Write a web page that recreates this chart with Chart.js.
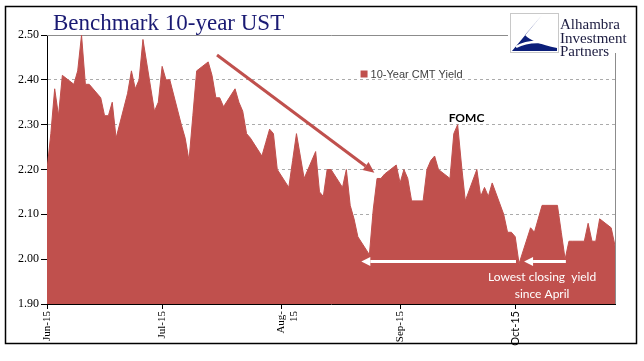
<!DOCTYPE html>
<html>
<head>
<meta charset="utf-8">
<title>Benchmark 10-year UST</title>
<script src="https://cdn.jsdelivr.net/npm/chart.js@4/dist/chart.umd.min.js"></script>
<style>
    html, body { margin: 0; padding: 0; background: #fff; }
    #wrap { width: 644px; height: 361px; }
</style>
</head>
<body>
<div id="wrap"><canvas id="ustChart" width="644" height="361"></canvas></div>
<script>
// daily 10-year CMT closes, Jun - Oct 2015 (holidays carry the prior close)
const dates = [
    '2015-06-01', '2015-06-02', '2015-06-03', '2015-06-04', '2015-06-05',
    '2015-06-08', '2015-06-09', '2015-06-10', '2015-06-11', '2015-06-12',
    '2015-06-15', '2015-06-16', '2015-06-17', '2015-06-18', '2015-06-19',
    '2015-06-22', '2015-06-23', '2015-06-24', '2015-06-25', '2015-06-26',
    '2015-06-29', '2015-06-30', '2015-07-01', '2015-07-02', '2015-07-03',
    '2015-07-06', '2015-07-07', '2015-07-08', '2015-07-09', '2015-07-10',
    '2015-07-13', '2015-07-14', '2015-07-15', '2015-07-16', '2015-07-17',
    '2015-07-20', '2015-07-21', '2015-07-22', '2015-07-23', '2015-07-24',
    '2015-07-27', '2015-07-28', '2015-07-29', '2015-07-30', '2015-07-31',
    '2015-08-03', '2015-08-04', '2015-08-05', '2015-08-06', '2015-08-07',
    '2015-08-10', '2015-08-11', '2015-08-12', '2015-08-13', '2015-08-14',
    '2015-08-17', '2015-08-18', '2015-08-19', '2015-08-20', '2015-08-21',
    '2015-08-24', '2015-08-25', '2015-08-26', '2015-08-27', '2015-08-28',
    '2015-08-31', '2015-09-01', '2015-09-02', '2015-09-03', '2015-09-04',
    '2015-09-07', '2015-09-08', '2015-09-09', '2015-09-10', '2015-09-11',
    '2015-09-14', '2015-09-15', '2015-09-16', '2015-09-17', '2015-09-18',
    '2015-09-21', '2015-09-22', '2015-09-23', '2015-09-24', '2015-09-25',
    '2015-09-28', '2015-09-29', '2015-09-30', '2015-10-01', '2015-10-02',
    '2015-10-05', '2015-10-06', '2015-10-07', '2015-10-08', '2015-10-09',
    '2015-10-12', '2015-10-13', '2015-10-14', '2015-10-15', '2015-10-16',
    '2015-10-19', '2015-10-20', '2015-10-21', '2015-10-22', '2015-10-23',
    '2015-10-26', '2015-10-27'
];
const yields = [
    2.20, 2.28, 2.38, 2.32, 2.41,
    2.39, 2.42, 2.50, 2.39, 2.39,
    2.36, 2.32, 2.32, 2.35, 2.27,
    2.37, 2.42, 2.38, 2.40, 2.49,
    2.33, 2.35, 2.43, 2.40, 2.40,
    2.30, 2.27, 2.22, 2.32, 2.42,
    2.44, 2.41, 2.36, 2.36, 2.34,
    2.38, 2.35, 2.33, 2.28, 2.27,
    2.23, 2.26, 2.29, 2.28, 2.20,
    2.16, 2.22, 2.28, 2.23, 2.18,
    2.24, 2.15, 2.14, 2.20, 2.20,
    2.16, 2.20, 2.12, 2.09, 2.05,
    2.01, 2.11, 2.18, 2.18, 2.19,
    2.21, 2.17, 2.20, 2.18, 2.13,
    2.13, 2.20, 2.22, 2.23, 2.20,
    2.18, 2.28, 2.30, 2.21, 2.13,
    2.20, 2.14, 2.16, 2.14, 2.17,
    2.10, 2.06, 2.06, 2.05, 1.99,
    2.07, 2.06, 2.09, 2.12, 2.12,
    2.12, 2.06, 2.00, 2.04, 2.04,
    2.04, 2.08, 2.04, 2.04, 2.09,
    2.07, 2.03
];
const monthTicks = ['2015-06-01', '2015-07-01', '2015-08-01', '2015-09-01', '2015-10-01'];
const monthLabels = ['Jun-15', 'Jul-15', ['Aug-', '15'], 'Sep-15', 'Oct-15'];
const yTicks = [1.90, 2.00, 2.10, 2.20, 2.30, 2.40, 2.50];
const seriesName = '10-Year CMT Yield';
const chartTitle = 'Benchmark 10-year UST';
const logoLines = ['Alhambra', 'Investment', 'Partners'];

const RED = '#c0504d';
const START = Date.UTC(2015, 5, 1);

function dayOf(s) {
    const [y, m, d] = s.split('-').map(Number);
    return (Date.UTC(y, m - 1, d) - START) / 86400000;
}

function drawArrow(ctx, x1, y1, x2, y2, color, width, headLen, headW) {
    const ang = Math.atan2(y2 - y1, x2 - x1);
    const bx = x2 - Math.cos(ang) * headLen;
    const by = y2 - Math.sin(ang) * headLen;
    ctx.save();
    ctx.strokeStyle = color;
    ctx.fillStyle = color;
    ctx.lineWidth = width;
    ctx.beginPath();
    ctx.moveTo(x1, y1);
    ctx.lineTo(bx, by);
    ctx.stroke();
    ctx.beginPath();
    ctx.moveTo(x2, y2);
    ctx.lineTo(bx + Math.sin(ang) * headW / 2, by - Math.cos(ang) * headW / 2);
    ctx.lineTo(bx - Math.sin(ang) * headW / 2, by + Math.cos(ang) * headW / 2);
    ctx.closePath();
    ctx.fill();
    ctx.restore();
}

const decor = {
    id: 'decor',
    beforeDraw(chart) {
        const ctx = chart.ctx;
        ctx.save();
        ctx.fillStyle = '#fff';
        ctx.fillRect(0, 0, chart.width, chart.height);
        ctx.restore();
    },
    beforeDatasetsDraw(chart) {
        const { ctx, chartArea: a } = chart;
        ctx.save();
        ctx.strokeStyle = '#8c8c8c';
        ctx.lineWidth = 1;
        ctx.beginPath();
        ctx.moveTo(a.left, a.top + 0.5);
        ctx.lineTo(a.right + 0.5, a.top + 0.5);
        ctx.lineTo(a.right + 0.5, a.bottom);
        ctx.stroke();
        ctx.restore();
    },
    afterDraw(chart) {
        const ctx = chart.ctx;
        const xs = chart.scales.x;
        const ys = chart.scales.y;
        const px = d => xs.getPixelForValue(d);
        const py = v => ys.getPixelForValue(v);

        ctx.save();

        // outer frame
        ctx.strokeStyle = '#000';
        ctx.lineWidth = 1.5;
        ctx.strokeRect(5.5, 6.5, 631, 337);

        // title
        ctx.fillStyle = '#1a1a73';
        ctx.font = '23px "Liberation Serif"';
        ctx.textAlign = 'left';
        ctx.textBaseline = 'alphabetic';
        ctx.fillText(chartTitle, 53, 30);

        // logo
        ctx.fillStyle = '#fff';
        ctx.fillRect(508, 8, 127, 45);
        ctx.strokeStyle = '#c8c8c8';
        ctx.lineWidth = 1;
        ctx.strokeRect(510.5, 13.5, 48, 39);
        ctx.fillStyle = '#0c1f7a';
        ctx.beginPath();
        ctx.moveTo(542, 15);
        ctx.lineTo(512, 51);
        ctx.lineTo(557, 51);
        ctx.lineTo(557, 48);
        ctx.quadraticCurveTo(532, 43, 525, 35);
        ctx.closePath();
        ctx.fill();
        ctx.strokeStyle = '#fff';
        ctx.lineWidth = 2.5;
        ctx.beginPath();
        ctx.moveTo(516, 47);
        ctx.quadraticCurveTo(532, 38, 558, 45);
        ctx.stroke();
        ctx.fillStyle = '#1c1c40';
        ctx.font = '15px "Liberation Serif"';
        logoLines.forEach((t, i) => ctx.fillText(t, 560, 29 + i * 13.5));

        // legend
        const lx = px(81.7);
        const ly = py(2.413);
        ctx.fillStyle = RED;
        ctx.fillRect(lx, ly - 3.5, 7, 7);
        ctx.fillStyle = '#404040';
        ctx.font = '11px "Liberation Sans"';
        ctx.textBaseline = 'middle';
        ctx.fillText(seriesName, lx + 10, ly + 0.5);

        // FOMC note
        ctx.fillStyle = '#000';
        ctx.font = 'bold 12px Lato';
        ctx.textAlign = 'center';
        ctx.fillText('FOMC', px(109.3), py(2.315));

        // trend arrow
        drawArrow(ctx, px(44.3), py(2.4555), px(85.3), py(2.193), RED, 3, 11, 10);

        // low-yield arrows
        drawArrow(ctx, px(122.2), py(1.995), px(81.9), py(1.995), '#fff', 3, 9, 9);
        drawArrow(ctx, px(135.2), py(1.995), px(124.3), py(1.995), '#fff', 3, 9, 9);

        ctx.fillStyle = '#fff';
        ctx.font = '12px Lato';
        ctx.fillText('Lowest closing  yield', px(129), py(1.959));
        ctx.fillText('since April', px(129), py(1.921));

        ctx.restore();
    }
};

const points = dates.map((d, i) => ({ x: dayOf(d), y: yields[i] }));

new Chart(document.getElementById('ustChart'), {
    type: 'line',
    data: {
        datasets: [{
            label: seriesName,
            data: points,
            fill: 'start',
            backgroundColor: RED,
            borderColor: RED,
            borderWidth: 1,
            pointRadius: 0,
            tension: 0
        }]
    },
    options: {
        responsive: false,
        animation: false,
        devicePixelRatio: 1,
        layout: { padding: { left: 0, top: 35, right: 29, bottom: 0 } },
        plugins: {
            legend: { display: false },
            tooltip: { enabled: false },
            title: { display: false }
        },
        scales: {
            x: {
                type: 'linear',
                min: 0,
                max: dayOf(dates[dates.length - 1]),
                afterBuildTicks: s => { s.ticks = monthTicks.map(d => ({ value: dayOf(d) })); },
                afterFit: s => { s.height = 57; },
                ticks: {
                    autoSkip: false,
                    minRotation: 90,
                    maxRotation: 90,
                    padding: 2,
                    color: '#000',
                    font: c => ({ family: c.index === 4 ? 'Lato' : 'Liberation Serif', size: 11 }),
                    callback: (v, i) => monthLabels[i]
                },
                grid: { drawOnChartArea: false, tickLength: 5, color: '#000', tickColor: '#000' },
                border: { color: '#000', width: 1 }
            },
            y: {
                min: 1.9,
                max: 2.5,
                afterBuildTicks: s => { s.ticks = yTicks.map(v => ({ value: v })); },
                afterFit: s => { s.width = 47; },
                ticks: {
                    color: '#000',
                    padding: 2,
                    font: { family: 'Liberation Serif', size: 12 },
                    callback: v => v.toFixed(2)
                },
                grid: {
                    color: c => (c.tick && (c.tick.value < 1.95 || c.tick.value > 2.45)) ? 'rgba(0,0,0,0)' : '#ababab',
                    tickColor: '#000',
                    tickLength: 6
                },
                border: { color: '#000', width: 1, dash: [3, 3] }
            }
        }
    },
    plugins: [decor]
});
</script>
</body>
</html>
